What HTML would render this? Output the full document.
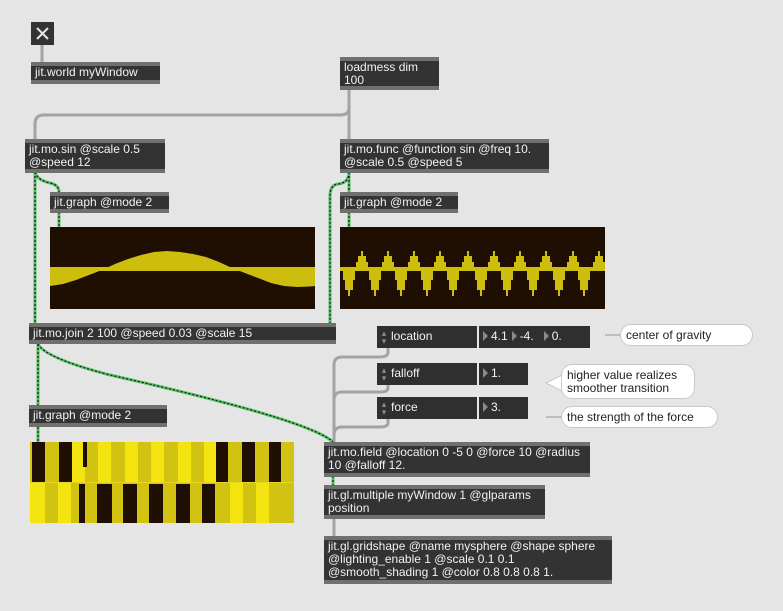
<!DOCTYPE html>
<html><head><meta charset="utf-8"><style>
html,body{margin:0;padding:0;width:783px;height:611px;overflow:hidden;background:#e5e5e5;font-family:"Liberation Sans",Arial,sans-serif;}
.o{position:absolute;background:#333;border-top:4px solid #707070;border-bottom:4px solid #707070;box-sizing:border-box;color:#f2f2f2;font-size:12px;line-height:13px;padding:0 4px;white-space:nowrap;}
.n{position:absolute;background:#2f2f2f;color:#f2f2f2;font-size:12px;line-height:21px;box-sizing:border-box;white-space:nowrap;}
.c{position:absolute;background:#fff;border:1px solid #c8c8c8;border-radius:11px;color:#222;font-size:12px;line-height:13px;padding:4px 4px 4px 5px;box-sizing:border-box;white-space:nowrap;}
svg{position:absolute;left:0;top:0;}
.ar{color:#8a8a8a;font-size:9px;display:inline-block;width:14px;text-align:center;line-height:8px;vertical-align:middle;}
.tri{display:inline-block;width:0;height:0;border-top:5px solid transparent;border-bottom:5px solid transparent;border-left:5px solid #8a8a8a;margin:0 3px 0 4px;vertical-align:-1px;}
</style></head><body>
<svg width="783" height="611" viewBox="0 0 783 611">
<defs>
<path id="up" d="M-6,269 L-6,262 L-4,262 L-4,256 L-1,256 L-1,251 L1,251 L1,256 L4,256 L4,262 L6,262 L6,269 Z" fill="#cdbe0e"/>
<path id="dn" d="M-6,269 L-6,280 L-4,280 L-4,290 L-1,290 L-1,296 L1,296 L1,290 L4,290 L4,280 L6,280 L6,269 Z" fill="#cdbe0e"/>
</defs>
<!-- graph 1 -->
<rect x="50" y="227" width="265" height="82" fill="#1e0f02"/>
<path d="M50,269 L50,286 L63,284 L76,280 L89,275 L102,270 L115,264 L128,259 L141,255 L154,252 L167,251 L180,252 L193,254 L206,257 L219,262 L232,268 L245,273 L258,278 L271,283 L284,286 L297,287 L310,286.5 L315,286 L315,269 Z" fill="#cdbe0e"/>
<rect x="50" y="267" width="265" height="4" fill="#cdbe0e"/>
<!-- graph 2 -->
<rect x="340" y="227" width="265" height="82" fill="#1e0f02"/>
<rect x="340" y="267" width="265" height="4" fill="#cdbe0e"/>
<use href="#up" x="362" y="0"/><use href="#up" x="388" y="0"/><use href="#up" x="414" y="0"/><use href="#up" x="440" y="0"/><use href="#up" x="468" y="0"/><use href="#up" x="494" y="0"/><use href="#up" x="520" y="0"/><use href="#up" x="546" y="0"/><use href="#up" x="573" y="0"/><use href="#up" x="599" y="0"/>
<use href="#dn" x="349" y="0"/><use href="#dn" x="375" y="0"/><use href="#dn" x="401" y="0"/><use href="#dn" x="427" y="0"/><use href="#dn" x="453" y="0"/><use href="#dn" x="481" y="0"/><use href="#dn" x="507" y="0"/><use href="#dn" x="533" y="0"/><use href="#dn" x="559" y="0"/><use href="#dn" x="584" y="0"/>
<!-- graph 3 -->
<rect x="30" y="442" width="264" height="81" fill="#d2c212"/>
<g fill="#f3e40f">
<rect x="72" y="442" width="13" height="40"/><rect x="98" y="442" width="13" height="40"/><rect x="125" y="442" width="13" height="40"/><rect x="151" y="442" width="13" height="40"/><rect x="178" y="442" width="13" height="40"/><rect x="204" y="442" width="12" height="40"/>
<rect x="30" y="483" width="15" height="40"/><rect x="58" y="483" width="13" height="40"/><rect x="230" y="483" width="13" height="40"/><rect x="256" y="483" width="13" height="40"/>
</g>
<rect x="30" y="482" width="264" height="1" fill="#e8d820"/>
<g fill="#1e0f02">
<rect x="32" y="442" width="13" height="40"/><rect x="59" y="442" width="13" height="40"/><rect x="83" y="442" width="4" height="25"/><rect x="216" y="442" width="12" height="40"/><rect x="242" y="442" width="13" height="40"/><rect x="269" y="442" width="12" height="40"/>
<rect x="79" y="484" width="6" height="39"/><rect x="97" y="484" width="15" height="39"/><rect x="123" y="484" width="14" height="39"/><rect x="149" y="484" width="14" height="39"/><rect x="176" y="484" width="14" height="39"/><rect x="202" y="484" width="13" height="39"/>
</g>
<!-- gray cords -->
<g fill="none" stroke="#a3a3a3" stroke-width="3">
<path d="M42,45 L42,62"/>
<path d="M349,90 L349,108 Q349,115 340,115 L44,115 Q35,115 35,124 L35,140"/>
<path d="M349,90 L349,140"/>
<path d="M388,348 L388,352 Q388,357 380,357 L342,357 Q334,357 334,365 L334,442"/>
<path d="M388,384 L388,388 Q388,392 380,392 L342,392 Q334,392 334,400"/>
<path d="M388,418 L388,423 Q388,427 380,427 L342,427 Q334,427 334,435"/>
<path d="M334,519 L334,536"/>
<path d="M605,335 L620,335" stroke-width="2" stroke="#bdbdbd"/>
<path d="M546,417 L561,417" stroke-width="2" stroke="#bdbdbd"/>
</g>
<!-- green cords -->
<g fill="none" stroke-width="3">
<g stroke="#55c060">
<path d="M35,172 L35,324"/>
<path d="M35,172 Q37,180 50,183 Q59,185 59,192"/>
<path d="M59,212 L59,227"/>
<path d="M349,172 L349,192"/>
<path d="M349,172 Q349,183 338,184 Q330,185 330,196 L330,324"/>
<path d="M38,344 L38,405"/>
<path d="M38,427 L38,442"/>
<path d="M349,212 L349,227"/>
<path d="M38,344 Q45,358 110,375 Q310,420 333,442"/>
<path d="M333,476 L333,485"/>
</g>
<g stroke="#1a1a1a" stroke-width="1.2" stroke-dasharray="2 2">
<path d="M35,172 L35,324"/>
<path d="M35,172 Q37,180 50,183 Q59,185 59,192"/>
<path d="M59,212 L59,227"/>
<path d="M349,172 L349,192"/>
<path d="M349,172 Q349,183 338,184 Q330,185 330,196 L330,324"/>
<path d="M38,344 L38,405"/>
<path d="M38,427 L38,442"/>
<path d="M349,212 L349,227"/>
<path d="M38,344 Q45,358 110,375 Q310,420 333,442"/>
<path d="M333,476 L333,485"/>
</g>
</g>
<!-- comment pointer -->
<path d="M562,375 L546,383 L562,391 Z" fill="#fff" stroke="#c8c8c8"/>
</svg>

<!-- toggle -->
<div style="position:absolute;left:31px;top:22px;width:23px;height:23px;background:#333;"></div>
<svg width="783" height="611"><path d="M37,28 L48,39 M48,28 L37,39" stroke="#dfe6e6" stroke-width="2"/></svg>

<div class="o" style="left:31px;top:62px;width:129px;height:22px;">jit.world myWindow</div>
<div class="o" style="left:340px;top:57px;width:99px;height:33px;">loadmess dim<br>100</div>
<div class="o" style="left:25px;top:139px;width:140px;height:34px;">jit.mo.sin @scale 0.5<br>@speed 12</div>
<div class="o" style="left:340px;top:139px;width:209px;height:34px;">jit.mo.func @function sin @freq 10.<br>@scale 0.5 @speed 5</div>
<div class="o" style="left:50px;top:192px;width:119px;height:21px;">jit.graph @mode 2</div>
<div class="o" style="left:340px;top:192px;width:118px;height:21px;">jit.graph @mode 2</div>
<div class="o" style="left:29px;top:323px;width:307px;height:21px;">jit.mo.join 2 100 @speed 0.03 @scale 15</div>
<div class="o" style="left:29px;top:405px;width:138px;height:22px;">jit.graph @mode 2</div>
<div class="o" style="left:324px;top:442px;width:266px;height:35px;">jit.mo.field @location 0 -5 0 @force 10 @radius<br>10 @falloff 12.</div>
<div class="o" style="left:324px;top:485px;width:221px;height:34px;">jit.gl.multiple myWindow 1 @glparams<br>position</div>
<div class="o" style="left:324px;top:536px;width:288px;height:48px;">jit.gl.gridshape @name mysphere @shape sphere<br>@lighting_enable 1 @scale 0.1 0.1<br>@smooth_shading 1 @color 0.8 0.8 0.8 1.</div>

<div class="n" style="left:377px;top:326px;width:100px;height:22px;"><span class="ar">▴<br>▾</span>location</div>
<div class="n" style="left:479px;top:326px;width:111px;height:22px;"><span class="tri"></span>4.1<span class="tri"></span>-4.<span class="tri" style="margin-left:10px"></span>0.</div>
<div class="n" style="left:377px;top:363px;width:100px;height:22px;"><span class="ar">▴<br>▾</span>falloff</div>
<div class="n" style="left:479px;top:363px;width:49px;height:22px;"><span class="tri"></span>1.</div>
<div class="n" style="left:377px;top:397px;width:100px;height:22px;"><span class="ar">▴<br>▾</span>force</div>
<div class="n" style="left:479px;top:397px;width:49px;height:22px;"><span class="tri"></span>3.</div>

<div class="c" style="left:620px;top:324px;width:133px;height:22px;">center of gravity</div>
<div class="c" style="left:561px;top:364px;width:134px;height:35px;">higher value realizes<br>smoother transition</div>
<div class="c" style="left:561px;top:406px;width:157px;height:22px;">the strength of the force</div>
</body></html>
